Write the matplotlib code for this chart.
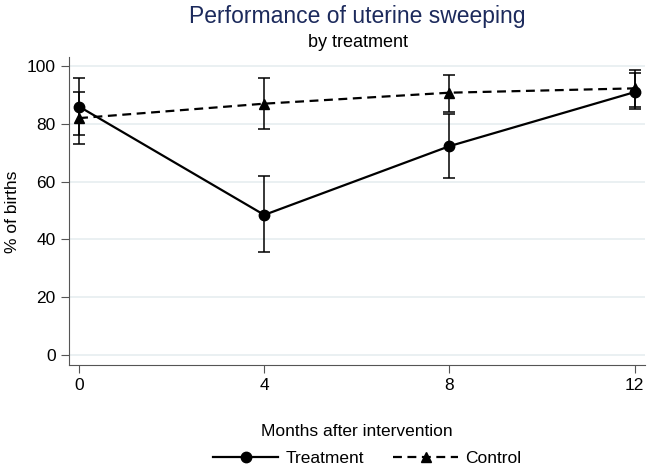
import numpy as np
import matplotlib.pyplot as plt
from matplotlib.lines import Line2D

plt.rcParams['font.family'] = ['Liberation Sans', 'DejaVu Sans']

months = [0, 4, 8, 12]
treat = [86, 48.5, 72.3, 91]
treat_lo = [76, 35.5, 61.4, 85.2]
treat_hi = [96, 62, 83.5, 97.6]
ctrl = [82, 87, 90.8, 92.3]
ctrl_lo = [73, 78.2, 84, 85.8]
ctrl_hi = [91, 96, 97, 98.6]

fig = plt.figure(figsize=(6.5, 4.67), dpi=100)
ax = fig.add_axes([0.106, 0.218, 0.886, 0.659])

t_err = [np.array(treat) - np.array(treat_lo), np.array(treat_hi) - np.array(treat)]
c_err = [np.array(ctrl) - np.array(ctrl_lo), np.array(ctrl_hi) - np.array(ctrl)]

dash = (0, (4, 2.5))
ax.errorbar(months, treat, yerr=t_err, color='black', lw=1.6, marker='o', ms=7.5,
            capsize=4, elinewidth=1.1, capthick=1.1, zorder=3)
ax.errorbar(months, ctrl, yerr=c_err, color='black', lw=1.6, ls=dash, marker='^', ms=7.5,
            capsize=4, elinewidth=1.1, capthick=1.1, zorder=3)

ax.set_xlim(-0.22, 12.22)
ax.set_ylim(-3.5, 103)
ax.set_xticks(months)
ax.set_yticks([0, 20, 40, 60, 80, 100])
ax.grid(axis='y', color='#e6eef0', lw=1.2)
ax.set_axisbelow(True)
for s in ['top', 'right']:
    ax.spines[s].set_visible(False)
for s in ['left', 'bottom']:
    ax.spines[s].set_color('#555555')
ax.tick_params(direction='out', length=6, color='#555555', labelsize=12.5)

fig.text(0.02, 0.547, '% of births', rotation=90, ha='center', va='center', fontsize=12.5)
ax.set_xlabel('Months after intervention', fontsize=12.5, labelpad=22)
fig.text(0.55, 0.965, 'Performance of uterine sweeping', ha='center', va='center',
         fontsize=16.5, color='#1c2a5c')
fig.text(0.55, 0.908, 'by treatment', ha='center', va='center', fontsize=13)

handles = [Line2D([], [], color='black', lw=1.6, marker='o', ms=7.5),
           Line2D([], [], color='black', lw=1.6, ls=dash, marker='^', ms=7.5)]
fig.legend(handles, ['Treatment', 'Control'], loc='lower center',
           bbox_to_anchor=(0.565, -0.032), ncol=2, frameon=False,
           fontsize=12.5, handlelength=3.75, handletextpad=0.4, columnspacing=1.7)

fig.savefig('out.png', dpi=100)
